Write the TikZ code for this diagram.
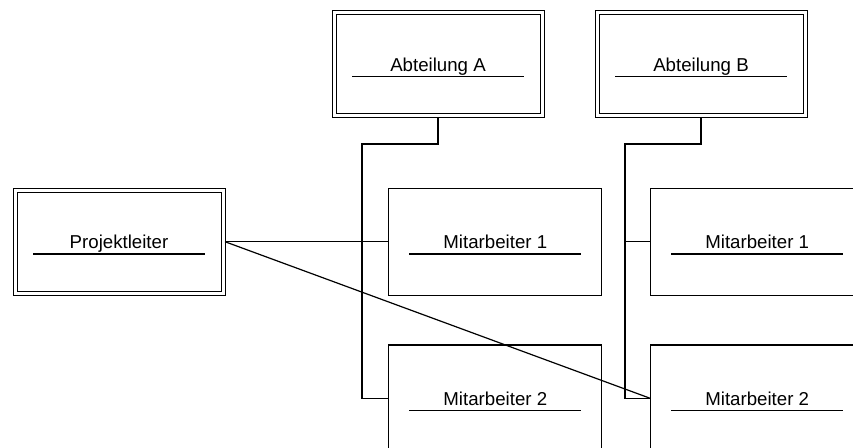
\documentclass[tikz,border=0pt]{standalone}
\usepackage{fontspec}
\setmainfont{Liberation Sans}
\begin{document}
\begin{tikzpicture}[x=0.75pt,y=-0.75pt,
  every node/.style={font=\fontsize{14}{16}\selectfont, text height=9.9pt, text depth=0pt, inner sep=0pt},
  rolebox/.style={draw, line width=0.9pt, minimum width=159.75pt, minimum height=80.25pt, outer sep=0pt,
    path picture={\draw[line width=0.9pt] ([shift={(-86,12.3)}]path picture bounding box.center) -- ++(172,0);}},
  leadbox/.style={rolebox, line width=0.75pt, double, double distance=2.25pt,
    minimum width=156pt, minimum height=77.25pt, outer sep=1.5pt},
  link/.style={line width=0.9pt}]
\useasboundingbox (0,0) rectangle (853,448);
\clip (0,0) rectangle (853,448);

% departments and project lead
\node[leadbox] (aa) at (438,64.5) {Abteilung A};
\node[leadbox] (ab) at (701,64.5) {Abteilung B};
\node[leadbox] (pl) at (119,241.7) {Projektleiter};

% staff
\node[rolebox] (m1a) at (495.3,241.7) {Mitarbeiter 1};
\node[rolebox] (m1b) at (757.2,241.7) {Mitarbeiter 1};
\node[rolebox] (m2a) at (495.3,398.5) {Mitarbeiter 2};
\node[rolebox] (m2b) at (757.2,398.5) {Mitarbeiter 2};

% department trees
\coordinate (ja) at (362,144);
\coordinate (jb) at (625,144);
\draw[link] (aa.south) |- (ja) |- (m2a.west);
\draw[link] (m1a.west -| ja) -- (m1a.west);
\draw[link] (ab.south) |- (jb) |- (m2b.west);
\draw[link] (m1b.west -| jb) -- (m1b.west);

% project lead links
\draw[link] (pl.east) -- (m1a.west);
\draw[link] (pl.east) -- (m2b.west);
\end{tikzpicture}
\end{document}
